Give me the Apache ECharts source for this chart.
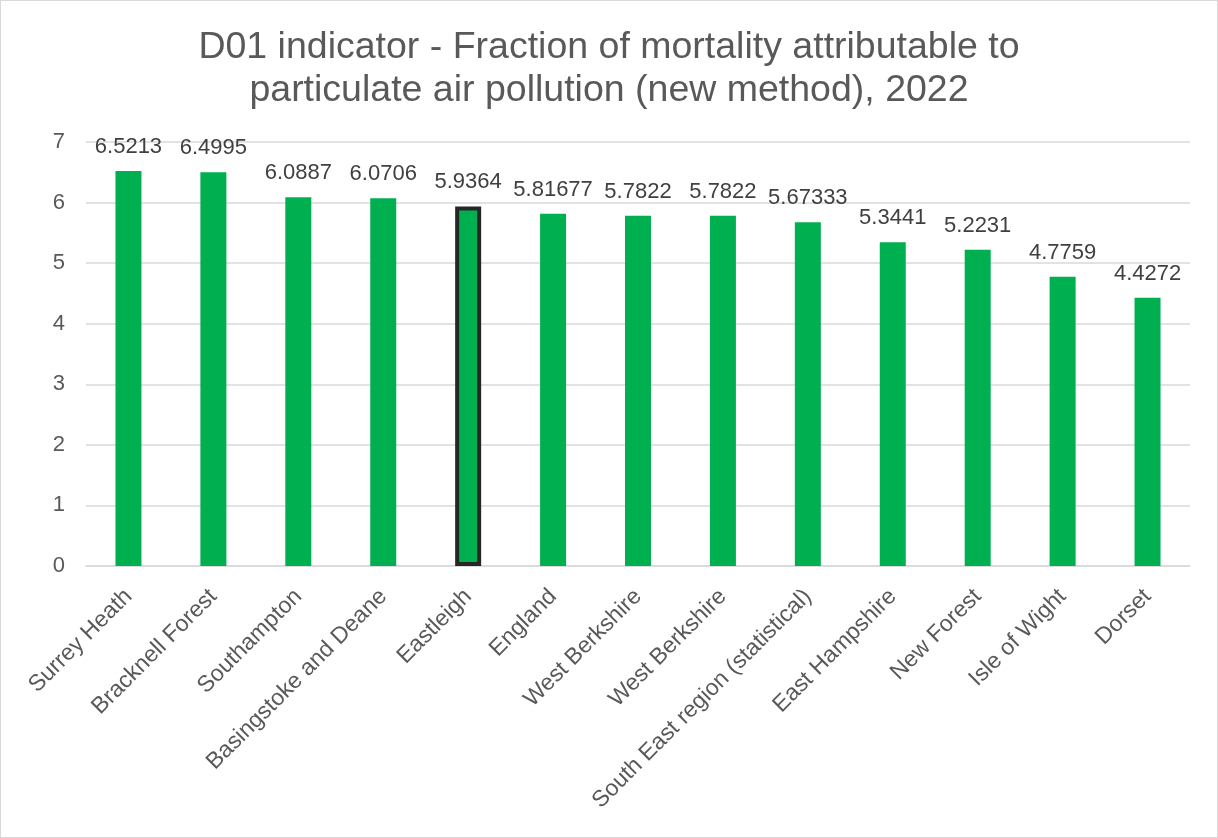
<!DOCTYPE html>
<html>
<head>
<meta charset="utf-8">
<script src="https://cdn.jsdelivr.net/npm/echarts@6/dist/echarts.min.js"></script>
<style>
  html, body { margin: 0; padding: 0; background: #fff; }
  #chart { width: 1218px; height: 838px; box-sizing: border-box; border: 1px solid #d9d9d9; }
</style>
</head>
<body>
<div id="chart"></div>
<script>
// Area names along the x axis
const areas = [
  'Surrey Heath', 'Bracknell Forest', 'Southampton', 'Basingstoke and Deane',
  'Eastleigh', 'England', 'West Berkshire', 'West Berkshire',
  'South East region (statistical)', 'East Hampshire', 'New Forest',
  'Isle of Wight', 'Dorset'
];
// Attributable mortality fraction (%) for each area
const values = [6.5213, 6.4995, 6.0887, 6.0706, 5.9364, 5.81677, 5.7822, 5.7822,
  5.67333, 5.3441, 5.2231, 4.7759, 4.4272];
// Area shown with an outline
const highlighted = 'Eastleigh';
const titleLines = [
  'D01 indicator - Fraction of mortality attributable to',
  'particulate air pollution (new method), 2022'
];

const green = '#00b050';
const barData = values.map((v, i) => areas[i] === highlighted
  ? { value: v, itemStyle: { color: green, borderColor: '#262626', borderWidth: 4 } }
  : { value: v, itemStyle: { color: green } });

const chart = echarts.init(document.getElementById('chart'), null, { renderer: 'canvas' });
chart.setOption({
  animation: false,
  textStyle: { fontFamily: '"Liberation Sans", Arial, sans-serif' },
  title: {
    text: titleLines.join('\n'),
    left: 'center',
    top: 20,
    textStyle: {
      fontFamily: '"Liberation Sans", Arial, sans-serif',
      fontSize: 37.5, fontWeight: 'normal', color: '#595959', lineHeight: 43
    }
  },
  grid: { left: 85, right: 27, top: 141, bottom: 271, containLabel: false },
  xAxis: {
    type: 'category',
    data: areas,
    axisTick: { show: false },
    axisLine: { lineStyle: { color: '#d9d9d9', width: 1.5 } },
    axisLabel: {
      interval: 0, rotate: 45, margin: 27,
      fontSize: 23, color: '#595959'
    }
  },
  yAxis: {
    type: 'value',
    min: 0, max: 7, interval: 1,
    axisLine: { show: false },
    axisTick: { show: false },
    axisLabel: { fontSize: 22, color: '#595959', margin: 21 },
    splitLine: { lineStyle: { color: '#d9d9d9', width: 1.5 } }
  },
  series: [{
    type: 'bar',
    data: barData,
    barWidth: 26,
    label: {
      show: true, position: 'top', distance: 13,
      fontSize: 22, color: '#404040',
      formatter: p => String(p.value)
    }
  }]
});
</script>
</body>
</html>
